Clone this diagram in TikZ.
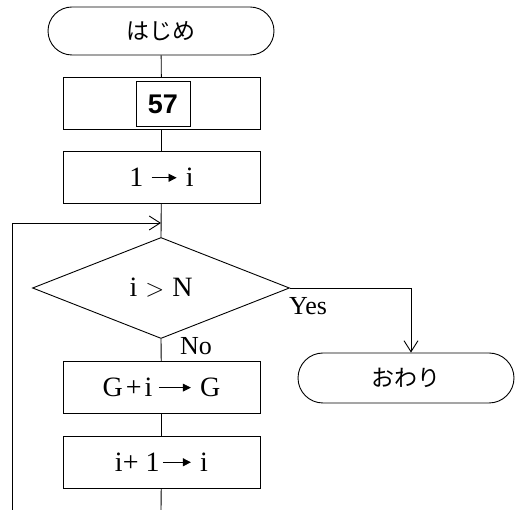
\documentclass[tikz,border=0pt]{standalone}
\usepackage{fontspec}
\setmainfont{Liberation Serif}
\newfontfamily\jpfont{Noto Sans CJK JP}
\newfontfamily\numfont{Liberation Sans}
\usetikzlibrary{shapes.misc,shapes.geometric,arrows.meta}
\newcommand{\ar}[1][26pt]{\tikz[baseline=-9pt]\draw[line width=0.7pt,-{Triangle[length=8pt,width=8pt]}] (0pt,0pt) -- (#1,0pt);}
\begin{document}
\begin{tikzpicture}[x=1pt,y=-1pt,
  line width=0.9pt,
  every node/.style={font=\fontsize{28}{30}\selectfont},
  term/.style={draw, rounded rectangle, inner sep=0pt},
  proc/.style={draw, rectangle, minimum width=197pt, minimum height=52pt, inner sep=0pt},
  decide/.style={draw, diamond, aspect=2.56, minimum width=257pt, minimum height=101pt, inner sep=0pt},
  lbl/.style={font=\fontsize{26}{28}\selectfont, inner sep=0pt},
  tip/.style={-{Straight Barb[length=11pt,width=14pt,line width=0.9pt]}}
]
\useasboundingbox (0,0) rectangle (515,510);
\node[term, minimum width=226pt, minimum height=48pt] (start) at (161,31) {\jpfont\fontsize{23}{24}\selectfont はじめ};
\node[proc] (p57) at (161.5,103.5) {};
\node[draw, minimum width=54pt, minimum height=45pt, inner sep=0pt, font=\numfont\bfseries\fontsize{27}{27}\selectfont] (n57) at (163,104) {57};
\node[proc] (init) at (161.5,177.5) {1\kern8pt\ar[25pt]\kern9pt i};
\coordinate (join) at (161,223);
\node[decide] (cond) at (161,288) {i\kern8pt$>$\kern8pt N};
\node[proc] (add) at (161.5,387.5) {G\kern3pt+\kern3pt i\kern6pt\ar[32pt]\kern9pt G};
\node[proc] (inc) at (161.5,462) {i+\kern7pt1\kern3pt\ar[28pt]\kern9pt i};
\node[term, minimum width=216pt, minimum height=50pt] (stop) at (406,378) {\jpfont\fontsize{23}{24}\selectfont おわり};
\coordinate (bot) at (161,510);
\coordinate (loopbot) at (12,510);
\coordinate (loopcorner) at (12,223);
\coordinate (yescorner) at (411,288);

\draw (start) -- (p57);
\draw (p57) -- (init);
\draw (init) -- (cond.north);
\draw[tip] (loopbot) -- (loopcorner) -- (join);
\draw (cond.south) -- (add);
\draw (add) -- (inc);
\draw (inc) -- (bot);
\draw[tip] (cond.east) -- (yescorner) -- (yescorner |- stop.north);
\node[lbl] (no) at (196,346) {No};
\node[lbl] (yes) at (308,306) {Yes};
\end{tikzpicture}
\end{document}
